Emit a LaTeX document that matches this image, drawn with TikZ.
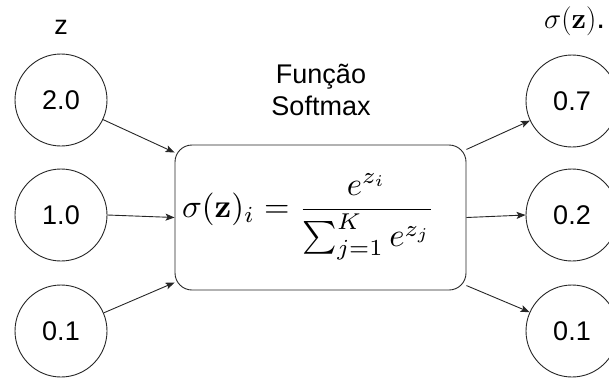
\documentclass[tikz,border=0pt]{standalone}
\usepackage[no-math]{fontspec}
\setmainfont{Liberation Sans}
\usepackage{graphicx}
\usetikzlibrary{arrows.meta}
\begin{document}
\begin{tikzpicture}[x=1pt,y=-1pt,
  val/.style={circle,draw=black!85,line width=0.9pt,minimum size=92pt,inner sep=0pt,font=\fontsize{27}{32}\selectfont},
  lbl/.style={font=\fontsize{27}{32}\selectfont,inner sep=0pt},
  fbox/.style={draw=black!85,line width=0.9pt,rounded corners=17pt,minimum width=291pt,minimum height=145pt,inner sep=0pt},
  conn/.style={line width=0.9pt,draw=black!85,-{Stealth[length=9pt,width=7pt,inset=2pt]}}]
\useasboundingbox (0,0) rectangle (609,378);
\node[val] (in1) at (61,100) {2.0};
\node[val] (in2) at (61,215) {1.0};
\node[val] (in3) at (61,331) {0.1};
\node[val] (out1) at (572,101) {0.7};
\node[val] (out2) at (572,215) {0.2};
\node[val] (out3) at (572,331) {0.1};
\node[lbl] (zlab) at (61,27) {z};
\node[lbl,anchor=west] (slab) at (544,21) {\resizebox{61pt}{!}{$\sigma(\mathbf{z})$.}};
\node[lbl,align=center] (title) at (321,90) {Função\\Softmax};
\node[fbox] (box) at (320.5,217.5) {};
\node (formula) at (308.5,217) {\resizebox{253pt}{!}{$\displaystyle \sigma(\mathbf{z})_i = \frac{e^{z_i}}{\sum_{j=1}^{K} e^{z_j}}$}};
\draw[conn] (in1.-25) -- (box.156);
\draw[conn] (in2.east) -- (box.west);
\draw[conn] (in3.23) -- (box.204);
\draw[conn] (box.25) -- (out1.205);
\draw[conn] (box.east) -- (out2.west);
\draw[conn] (box.-25) -- (out3.156);
\end{tikzpicture}
\end{document}
